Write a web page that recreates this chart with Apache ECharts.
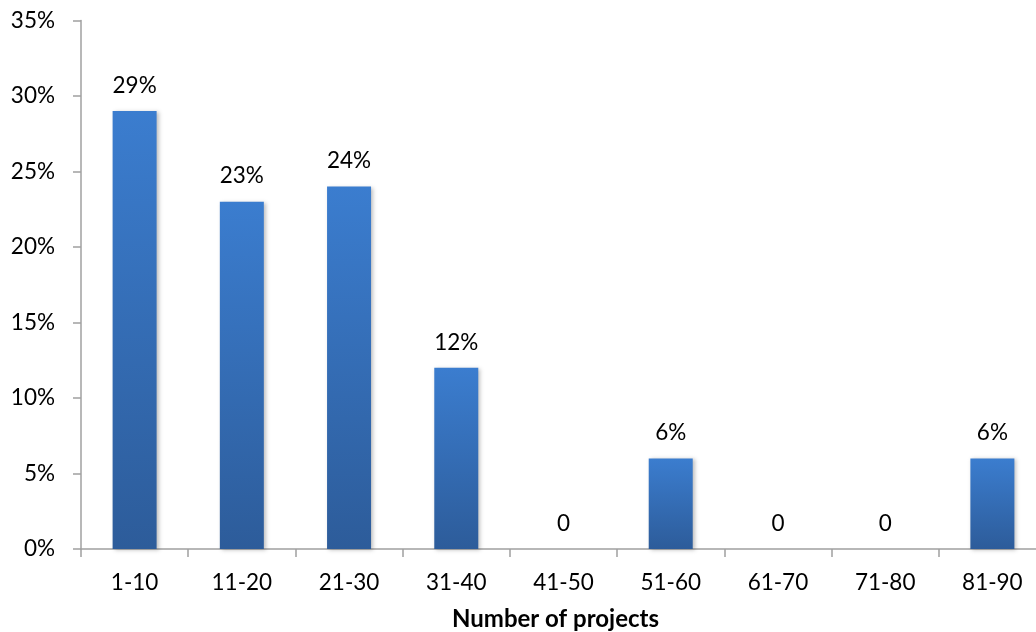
<!DOCTYPE html>
<html>
<head>
<meta charset="utf-8">
<script src="https://cdn.jsdelivr.net/npm/echarts@6/dist/echarts.min.js"></script>
<style>
  html, body { margin: 0; padding: 0; background: #fff; }
  #chart { width: 1036px; height: 632px; }
</style>
</head>
<body>
<div id="chart"></div>
<script>
// Share of respondents by number of projects (percent)
const categories = ['1-10', '11-20', '21-30', '31-40', '41-50', '51-60', '61-70', '71-80', '81-90'];
const shares = [29, 23, 24, 12, 0, 6, 0, 0, 6];
const yTicks = { min: 0, max: 35, interval: 5 };
const xTitle = 'Number of projects';

const FONT = 'Lato, "Open Sans", sans-serif';
const AXIS_GREY = '#A0A0A0';

const chart = echarts.init(document.getElementById('chart'), null, { renderer: 'canvas' });

chart.setOption({
  animation: false,
  backgroundColor: '#ffffff',
  // the plot runs slightly past the right edge of the canvas
  grid: { left: 81, width: 965, top: 20.5, bottom: 83, containLabel: false, outerBoundsMode: 'none' },
  xAxis: {
    type: 'category',
    data: categories,
    name: xTitle,
    nameLocation: 'middle',
    nameGap: 58,
    nameTextStyle: {
      fontFamily: FONT, fontSize: 24, fontWeight: 'bold', color: '#000',
      padding: [0, 16, 0, 0]
    },
    axisLine: { lineStyle: { color: AXIS_GREY, width: 1.5 } },
    axisTick: { show: true, alignWithLabel: false, length: 8, lineStyle: { color: AXIS_GREY, width: 1.5 } },
    axisLabel: { fontFamily: FONT, fontSize: 22.5, color: '#000', margin: 22 }
  },
  yAxis: {
    type: 'value',
    min: yTicks.min,
    max: yTicks.max,
    interval: yTicks.interval,
    axisLine: { show: true, lineStyle: { color: AXIS_GREY, width: 1.5 } },
    axisTick: { show: true, length: 8, lineStyle: { color: AXIS_GREY, width: 1.5 } },
    splitLine: { show: false },
    axisLabel: { fontFamily: FONT, fontSize: 22.5, color: '#000', margin: 26, formatter: '{value}%' }
  },
  series: [{
    type: 'bar',
    data: shares,
    barWidth: 44,
    itemStyle: {
      color: new echarts.graphic.LinearGradient(0, 0, 0, 1, [
        { offset: 0, color: '#3B7DCF' },
        { offset: 1, color: '#2D5C9A' }
      ]),
      shadowColor: 'rgba(0,0,0,0.25)',
      shadowBlur: 4,
      shadowOffsetX: 2,
      shadowOffsetY: 1
    },
    label: {
      show: true,
      position: 'top',
      distance: 14,
      fontFamily: FONT,
      fontSize: 22.5,
      color: '#000',
      formatter: p => (p.value === 0 ? '0' : p.value + '%')
    }
  }]
});
</script>
</body>
</html>
